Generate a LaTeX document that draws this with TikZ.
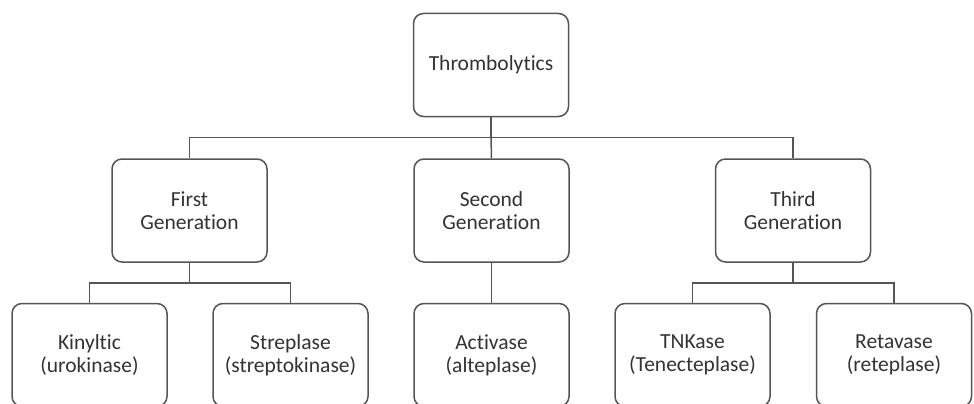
\documentclass[tikz,border=0pt]{standalone}
\usepackage{fontspec}
\setmainfont{Carlito}[Ligatures={NoCommon,NoRare,NoDiscretionary}]
\definecolor{edgegray}{HTML}{555555}
\definecolor{txtgray}{HTML}{333333}
\begin{document}
\begin{tikzpicture}[x=1pt,y=-1pt,
  box/.style={draw=edgegray, line width=1.5pt, rounded corners=10pt, fill=white,
    minimum width=155pt, minimum height=103pt, align=center, inner sep=0pt,
    text=txtgray, font=\fontsize{21.5}{23}\selectfont},
  conn/.style={draw=edgegray, line width=1.5pt}]
\useasboundingbox (0,0) rectangle (974,404);
\clip (0,0) rectangle (974,404);
\fill[white] (0,0) rectangle (974,404);
\node[box] (root) at (491,65) {Thrombolytics};
\node[box] (g1) at (189.5,210.5) {First\\Generation};
\node[box] (g2) at (491.5,210.5) {Second\\Generation};
\node[box] (g3) at (793,210.5) {Third\\Generation};
\node[box] (k) at (89.5,355) {Kinyltic\\(urokinase)};
\node[box] (s) at (290.5,355) {Streplase\\(streptokinase)};
\node[box] (a) at (491.5,355) {Activase\\(alteplase)};
\node[box] (t) at (692.5,355) {TNKase\\(Tenecteplase)};
\node[box] (r) at (894,355) {Retavase\\(reteplase)};
\coordinate (h1) at (491,137.5);
\coordinate (h2) at (189.5,283);
\coordinate (h3) at (793,283);
\draw[conn] (root.south) -- (h1);
\draw[conn] (g1.north) |- (h1) -| (g3.north);
\draw[conn] (h1) -- (g2.north);
\draw[conn] (g1.south) -- (h2);
\draw[conn] (k.north) |- (h2) -| (s.north);
\draw[conn] (g2.south) -- (a.north);
\draw[conn] (g3.south) -- (h3);
\draw[conn] (t.north) |- (h3) -| (r.north);
\end{tikzpicture}
\end{document}
